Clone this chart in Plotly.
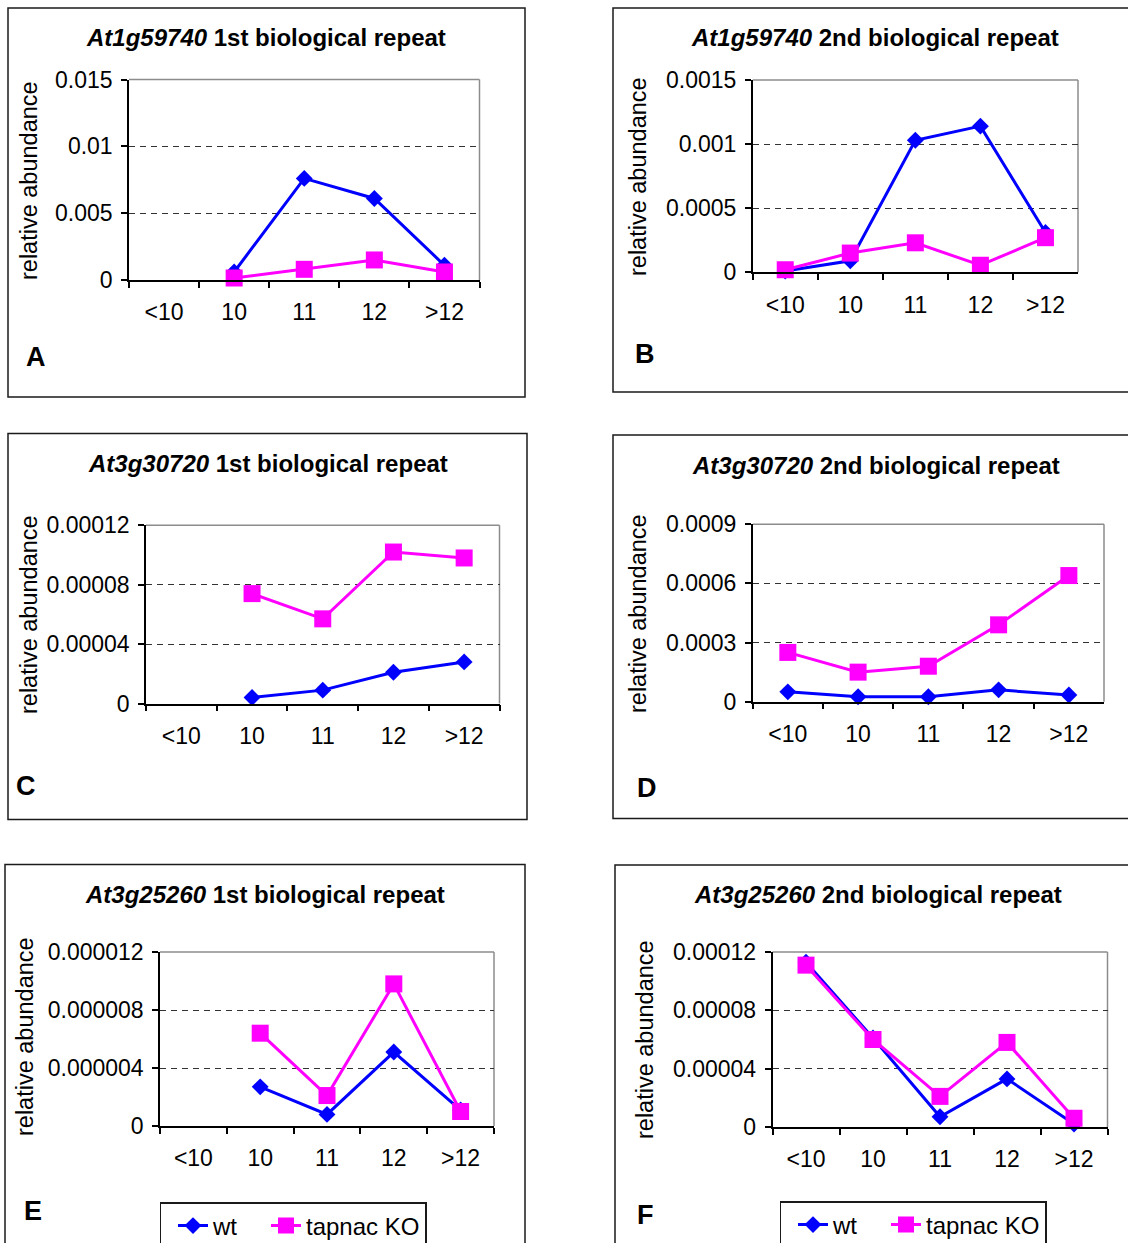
import plotly.graph_objects as go

W, H = 1128, 1243
FONT = "Liberation Sans"
BLUE = "#0000FF"
MAGENTA = "#FF00FF"

categories = ["<10", "10", "11", "12", ">12"]

# At1g59740 - 1st biological repeat
a_wt = [None, 0.0006, 0.0076, 0.0061, 0.0011]
a_ko = [None, 0.00015, 0.0008, 0.0015, 0.0006]
a_tickvals = [0, 0.005, 0.01, 0.015]
a_ticktext = ["0", "0.005", "0.01", "0.015"]

# At1g59740 - 2nd biological repeat
b_wt = [0.00001, 0.00009, 0.00103, 0.00114, 0.00031]
b_ko = [0.00002, 0.00015, 0.00023, 0.000055, 0.00027]
b_tickvals = [0, 0.0005, 0.001, 0.0015]
b_ticktext = ["0", "0.0005", "0.001", "0.0015"]

# At3g30720 - 1st biological repeat
c_wt = [None, 0.000004, 0.000009, 0.000021, 0.000028]
c_ko = [None, 0.000074, 0.000057, 0.000102, 0.000098]
c_tickvals = [0, 0.00004, 0.00008, 0.00012]
c_ticktext = ["0", "0.00004", "0.00008", "0.00012"]

# At3g30720 - 2nd biological repeat
d_wt = [0.00005, 0.000025, 0.000025, 0.00006, 0.000034]
d_ko = [0.00025, 0.00015, 0.00018, 0.00039, 0.00064]
d_tickvals = [0, 0.0003, 0.0006, 0.0009]
d_ticktext = ["0", "0.0003", "0.0006", "0.0009"]

# At3g25260 - 1st biological repeat
e_wt = [None, 0.0000027, 0.0000008, 0.0000051, 0.0000011]
e_ko = [None, 0.0000064, 0.0000021, 0.0000098, 0.000001]
e_tickvals = [0, 0.000004, 0.000008, 0.000012]
e_ticktext = ["0", "0.000004", "0.000008", "0.000012"]

# At3g25260 - 2nd biological repeat
f_wt = [0.000113, 0.000061, 0.000007, 0.000033, 0.000002]
f_ko = [0.000111, 0.00006, 0.000021, 0.000058, 0.000006]
f_tickvals = [0, 0.00004, 0.00008, 0.00012]
f_ticktext = ["0", "0.00004", "0.00008", "0.00012"]

series_names = ["wt", "tapnac KO"]

panels = [
    dict(gene="At1g59740", rep="1st", letter="A", wt=a_wt, ko=a_ko, tv=a_tickvals, tt=a_ticktext,
         plot=(129, 479.5, 79.5, 280), frame=(8, 525, 8, 397),
         title=(266, 37), ytitle=(29, 181), lab=(36, 357)),
    dict(gene="At1g59740", rep="2nd", letter="B", wt=b_wt, ko=b_ko, tv=b_tickvals, tt=b_ticktext,
         plot=(752.7, 1078, 80, 272.3), frame=(613, 1140, 8, 392),
         title=(875, 37), ytitle=(638, 177), lab=(645, 354)),
    dict(gene="At3g30720", rep="1st", letter="C", wt=c_wt, ko=c_ko, tv=c_tickvals, tt=c_ticktext,
         plot=(146, 499.5, 525.3, 703.5), frame=(8, 527, 433.5, 819.5),
         title=(268, 463), ytitle=(29, 615), lab=(26, 786)),
    dict(gene="At3g30720", rep="2nd", letter="D", wt=d_wt, ko=d_ko, tv=d_tickvals, tt=d_ticktext,
         plot=(752.7, 1104, 524.3, 701.7), frame=(613, 1140, 435, 818.5),
         title=(876, 465), ytitle=(638, 614), lab=(647, 788)),
    dict(gene="At3g25260", rep="1st", letter="E", wt=e_wt, ko=e_ko, tv=e_tickvals, tt=e_ticktext,
         plot=(160, 494, 952, 1126), frame=(5, 525, 864.5, 1260),
         title=(265, 894), ytitle=(25, 1037), lab=(33, 1211)),
    dict(gene="At3g25260", rep="2nd", letter="F", wt=f_wt, ko=f_ko, tv=f_tickvals, tt=f_ticktext,
         plot=(772.5, 1107.5, 952, 1127), frame=(615, 1140, 865, 1260),
         title=(878, 894), ytitle=(645, 1040), lab=(645, 1215)),
]


def px(x):
    return x / W


def py(y):
    return 1 - y / H


fig = go.Figure()
shapes = []
annotations = []
layout = {}

for i, p in enumerate(panels):
    n = "" if i == 0 else str(i + 1)
    xa, ya = "x" + n, "y" + n
    legend_id = {4: "legend", 5: "legend2"}.get(i)

    for name, vals, color, symbol, size, lw in [
        (series_names[0], p["wt"], BLUE, "diamond", 13, 36),
        (series_names[1], p["ko"], MAGENTA, "square", 17, None),
    ]:
        fig.add_trace(go.Scatter(
            x=categories, y=vals, name=name, mode="lines+markers",
            line=dict(color=color, width=3),
            marker=dict(color=color, symbol=symbol, size=size, line=dict(width=0)),
            xaxis=xa, yaxis=ya, cliponaxis=False,
            showlegend=legend_id is not None,
            legend=legend_id if legend_id else "legend",
            legendwidth=lw,
        ))

    l, r, t, b = p["plot"]
    layout["xaxis" + n] = dict(
        domain=[px(l), px(r)], anchor=ya, type="category",
        categoryorder="array", categoryarray=categories, range=[-0.5, 4.5],
        showline=True, linecolor="black", linewidth=1.5,
        ticks="outside", tickson="boundaries", ticklen=6, tickwidth=1.5, tickcolor="black",
        tickfont=dict(family=FONT, size=23, color="black"), ticklabelstandoff=11,
        showgrid=False, zeroline=False, fixedrange=True,
    )
    layout["yaxis" + n] = dict(
        domain=[py(b), py(t)], anchor=xa, range=[0, p["tv"][-1]],
        tickmode="array", tickvals=p["tv"], ticktext=p["tt"],
        showline=True, linecolor="black", linewidth=1.5,
        ticks="outside", ticklen=6, tickwidth=1.5, tickcolor="black",
        tickfont=dict(family=FONT, size=23, color="black"), ticklabelstandoff=4,
        showgrid=True, gridcolor="#333333", gridwidth=1, griddash="6px,5px",
        zeroline=False, fixedrange=True,
    )

    # light grey plot-area border on top and right
    for x0, y0, x1, y1 in [(0, 1, 1, 1), (1, 0, 1, 1)]:
        shapes.append(dict(type="line", xref=xa + " domain", yref=ya + " domain",
                           x0=x0, y0=y0, x1=x1, y1=y1,
                           line=dict(color="#8c8c8c", width=1.5), layer="below"))

    # panel frame
    fl, fr, ft, fb = p["frame"]
    shapes.append(dict(type="rect", xref="paper", yref="paper",
                       x0=px(fl), x1=px(fr), y0=py(fb), y1=py(ft),
                       line=dict(color="#1a1a1a", width=1.5)))

    tx, ty = p["title"]
    annotations.append(dict(
        xref="paper", yref="paper", x=px(tx), y=py(ty), xanchor="center", yanchor="middle",
        text=f"<b><i>{p['gene']}</i> {p['rep']} biological repeat</b>", showarrow=False,
        font=dict(family=FONT, size=24, color="black")))

    yx, yy = p["ytitle"]
    annotations.append(dict(
        xref="paper", yref="paper", x=px(yx), y=py(yy), xanchor="center", yanchor="middle",
        text="relative abundance", textangle=-90, showarrow=False,
        font=dict(family=FONT, size=23.5, color="black")))

    lx, ly = p["lab"]
    annotations.append(dict(
        xref="paper", yref="paper", x=px(lx), y=py(ly), xanchor="center", yanchor="middle",
        text=f"<b>{p['letter']}</b>", showarrow=False,
        font=dict(family=FONT, size=27, color="black")))

legend_style = dict(
    orientation="h", xanchor="left", yanchor="top",
    bgcolor="white", bordercolor="#1a1a1a", borderwidth=1.5, indentation=12,
    font=dict(family=FONT, size=24, color="black"), itemclick=False,
)
layout["legend"] = dict(legend_style, x=px(159.5), y=py(1202))
layout["legend2"] = dict(legend_style, x=px(779.5), y=py(1201))

fig.update_layout(
    width=W, height=H, margin=dict(l=0, r=0, t=0, b=0, autoexpand=False),
    paper_bgcolor="white", plot_bgcolor="white",
    font=dict(family=FONT, color="black"),
    shapes=shapes, annotations=annotations, **layout,
)

fig.write_html("out.html")
